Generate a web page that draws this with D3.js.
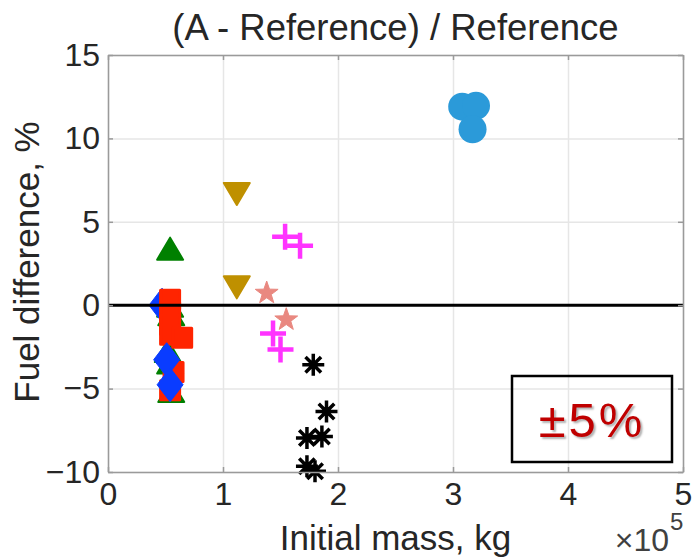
<!DOCTYPE html>
<html>
<head>
<meta charset="utf-8">
<script src="https://cdn.jsdelivr.net/npm/d3@7"></script>
<style>
  body { margin: 0; background: #fff; }
  text { font-family: "Liberation Sans", Arial, sans-serif; }
</style>
</head>
<body>
<div id="chart"></div>
<script>
// initial mass in units of 1e5 kg, fuel difference in %
var xTicks = [0, 1, 2, 3, 4, 5];
var yTicks = [-10, -5, 0, 5, 10, 15];

var circlesX = [3.08, 3.20, 3.17];
var circlesY = [11.9, 11.95, 10.55];

var triDownX = [1.12, 1.12];
var triDownY = [6.73, 1.13];

var plusX = [1.54, 1.67, 1.435, 1.50];
var plusY = [4.1, 3.57, -1.7, -2.65];

var starX = [1.38, 1.55];
var starY = [0.73, -0.87];

var astX = [1.785, 1.90, 1.86, 1.73, 1.73, 1.80];
var astY = [-3.57, -6.37, -7.87, -7.96, -9.66, -9.96];

var triUpX = [0.54, 0.54, 0.55, 0.52, 0.54, 0.55];
var triUpY = [3.33, -0.1, -0.6, -2.8, -3.5, -5.2];

var diamAX = [0.47];
var diamAY = [0.0];

var squareX = [0.54, 0.54, 0.54, 0.54, 0.645, 0.57, 0.54];
var squareY = [0.33, -0.39, -1.17, -1.77, -1.95, -4.0, -5.1];

var diamBX = [0.51, 0.54];
var diamBY = [-3.27, -4.77];

var width = 695, height = 558;
var plotL = 108, plotR = 683, plotT = 55, plotB = 472;

var x = d3.scaleLinear().domain([0, 5]).range([plotL, plotR]);
var y = d3.scaleLinear().domain([-10, 15]).range([plotB, plotT]);

var svg = d3.select("#chart").append("svg")
  .attr("width", width)
  .attr("height", height);

// grid
svg.append("g")
  .attr("transform", "translate(0," + plotB + ")")
  .call(d3.axisBottom(x).tickValues(xTicks).tickSize(-(plotB - plotT)).tickFormat(""))
  .call(function(g){ g.select(".domain").remove(); })
  .selectAll("line").attr("stroke", "#e6e6e6").attr("stroke-width", 1.5);
svg.append("g")
  .attr("transform", "translate(" + plotL + ",0)")
  .call(d3.axisLeft(y).tickValues(yTicks).tickSize(-(plotR - plotL)).tickFormat(""))
  .call(function(g){ g.select(".domain").remove(); })
  .selectAll("line").attr("stroke", "#e6e6e6").attr("stroke-width", 1.5);

// marker shapes
function poly(pts) { return "M" + pts.map(function(p){ return p.join(","); }).join("L") + "Z"; }
var shapes = {
  circle: function(){ return d3.arc()({innerRadius: 0, outerRadius: 14, startAngle: 0, endAngle: 2 * Math.PI}); },
  triUp: function(){ return poly([[0, -12], [13, 10], [-13, 10]]); },
  triDown: function(){ return poly([[-13, -10], [13, -10], [0, 12]]); },
  square: function(){ return poly([[-9.5, -9.5], [9.5, -9.5], [9.5, 9.5], [-9.5, 9.5]]); },
  diamond: function(){ return poly([[0, -17], [13, 0], [0, 17], [-13, 0]]); },
  star: function(){
    var pts = [];
    for (var i = 0; i < 10; i++) {
      var r = i % 2 ? 4.8 : 12, a = -Math.PI / 2 + i * Math.PI / 5;
      pts.push([r * Math.cos(a), r * Math.sin(a)]);
    }
    return poly(pts);
  },
  plus: function(){ return "M-13,0L13,0M0,-13L0,13"; },
  asterisk: function(){
    var p = "";
    for (var i = 0; i < 4; i++) {
      var a = i * Math.PI / 4, r = 11;
      p += "M" + (-r * Math.cos(a)) + "," + (-r * Math.sin(a)) + "L" + (r * Math.cos(a)) + "," + (r * Math.sin(a));
    }
    return p;
  }
};

function drawSeries(xs, ys, shape, color, filled, sw) {
  var pts = xs.map(function(v, i){ return {x: v, y: ys[i]}; });
  svg.append("g").selectAll("path")
    .data(pts)
    .enter()
    .append("path")
    .attr("d", shapes[shape]())
    .attr("transform", function(d){ return "translate(" + x(d.x) + "," + y(d.y) + ")"; })
    .attr("fill", filled ? color : "none")
    .attr("stroke", color)
    .attr("stroke-width", sw)
    .attr("stroke-linejoin", "round")
    .attr("stroke-linecap", "butt");
}

drawSeries(circlesX, circlesY, "circle", "#2b9ad9", true, 0);
drawSeries(triDownX, triDownY, "triDown", "#bf9000", true, 2);
drawSeries(starX, starY, "star", "#e98880", true, 1);
drawSeries(plusX, plusY, "plus", "#ff33ff", false, 4.5);
drawSeries(astX, astY, "asterisk", "#000000", false, 3.5);
drawSeries(triUpX, triUpY, "triUp", "#008000", true, 2);
drawSeries(diamAX, diamAY, "diamond", "#0a3cff", true, 1);
drawSeries(squareX, squareY, "square", "#ff2400", true, 3);
drawSeries(diamBX, diamBY, "diamond", "#0a3cff", true, 1);

// zero line
svg.append("line")
  .attr("x1", x(0)).attr("x2", x(5))
  .attr("y1", y(0)).attr("y2", y(0))
  .attr("stroke", "#000").attr("stroke-width", 3);

// axes
var axisColor = "#9a9a9a", textColor = "#262626";
function styleAxis(g) {
  g.select(".domain").attr("stroke", axisColor).attr("stroke-width", 1.5);
  g.selectAll(".tick line").attr("stroke", axisColor).attr("stroke-width", 1.5);
  g.selectAll("text").attr("fill", textColor).style("font-size", "32px")
    .style("font-family", "'Liberation Sans', Arial, sans-serif");
}
var fmt = d3.format("d");
svg.append("g").attr("transform", "translate(0," + plotB + ")")
  .call(d3.axisBottom(x).tickValues(xTicks).tickFormat(fmt).tickSizeInner(-5).tickSizeOuter(0).tickPadding(10))
  .call(styleAxis);
svg.append("g").attr("transform", "translate(" + plotL + ",0)")
  .call(d3.axisLeft(y).tickValues(yTicks).tickFormat(fmt).tickSizeInner(-5).tickSizeOuter(0).tickPadding(8))
  .call(styleAxis);
svg.append("g").attr("transform", "translate(0," + plotT + ")")
  .call(d3.axisTop(x).tickValues(xTicks).tickSizeInner(-5).tickSizeOuter(0).tickFormat(""))
  .call(styleAxis);
svg.append("g").attr("transform", "translate(" + plotR + ",0)")
  .call(d3.axisRight(y).tickValues(yTicks).tickSizeInner(-5).tickSizeOuter(0).tickFormat(""))
  .call(styleAxis);

// title and labels
svg.append("text")
  .attr("x", (plotL + plotR) / 2).attr("y", 40)
  .attr("text-anchor", "middle")
  .attr("fill", textColor)
  .style("font-size", "36.5px")
  .text("(A - Reference) / Reference");

svg.append("text")
  .attr("x", (plotL + plotR) / 2).attr("y", 550)
  .attr("text-anchor", "middle")
  .attr("fill", textColor)
  .style("font-size", "35px")
  .text("Initial mass, kg");

svg.append("text")
  .attr("transform", "translate(39," + 262 + ") rotate(-90)")
  .attr("text-anchor", "middle")
  .attr("fill", textColor)
  .style("font-size", "35px")
  .text("Fuel difference, %");

svg.append("text")
  .attr("x", 669).attr("y", 551)
  .attr("text-anchor", "end")
  .attr("fill", "#404040")
  .style("font-size", "32px")
  .text("\u00d710");
svg.append("text")
  .attr("x", 670).attr("y", 530)
  .attr("fill", "#404040")
  .style("font-size", "24px")
  .text("5");

// ±5% box
svg.append("rect")
  .attr("x", 512).attr("y", 376)
  .attr("width", 160).attr("height", 86)
  .attr("fill", "none")
  .attr("stroke", "#000")
  .attr("stroke-width", 2.5);
svg.append("text")
  .attr("x", 592).attr("y", 437)
  .attr("text-anchor", "middle")
  .attr("fill", "#c00000")
  .style("font-size", "49px")
  .style("letter-spacing", "3px")
  .style("text-shadow", "2px 2px 2px rgba(0,0,0,0.3)")
  .text("\u00b15%");
</script>
</body>
</html>
